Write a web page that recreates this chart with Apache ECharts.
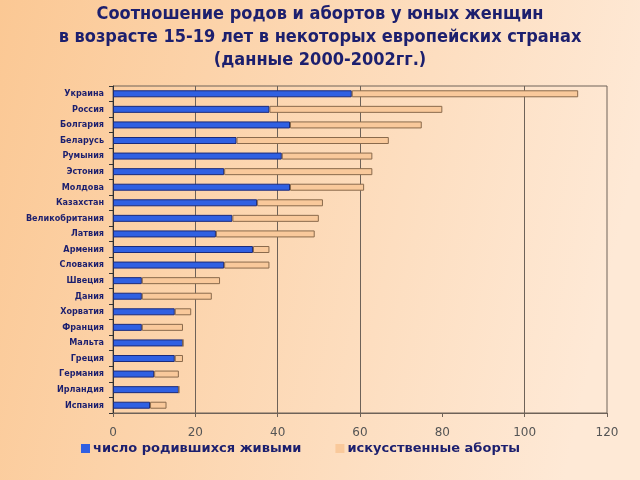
<!DOCTYPE html>
<html><head><meta charset="utf-8">
<script src="https://cdn.jsdelivr.net/npm/echarts@6/dist/echarts.min.js"></script>
<style>html,body{margin:0;padding:0;}#c{width:640px;height:480px;}</style>
</head><body><div id="c"></div>
<script>
const countries = ["Украина","Россия","Болгария","Беларусь","Румыния","Эстония","Молдова","Казахстан","Великобритания","Латвия","Армения","Словакия","Швеция","Дания","Хорватия","Франция","Мальта","Греция","Германия","Ирландия","Испания"];
const births =    [58,38,43,30,41,27,43,35,29,25,34,27,7,7,15,7,17,15,10,16,9];
const abortions = [55,42,32,37,22,36,18,16,21,24,4,11,19,17,4,10,0,2,6,0,4];
const xTicks = [0,20,40,60,80,100,120];
const gridValues = [20,40,60,100];
const seriesNames = ["число родившихся живыми","искусственные аборты"];
const titleLines = ["Соотношение родов и абортов у юных женщин","в возрасте 15-19 лет в некоторых европейских странах","(данные 2000-2002гг.)"];

const navy = '#1c1f6e';
const grid = '#6e6258';
const chart = echarts.init(document.getElementById('c'));
chart.setOption({
  animation:false,
  backgroundColor:{type:'linear',x:0,y:0,x2:1,y2:0.3,colorStops:[{offset:0,color:'#fbc894'},{offset:1,color:'#fee9d6'}]},
  title:{text:titleLines.join('\n'),left:'center',top:-2,
    textStyle:{fontFamily:'DejaVu Sans Condensed',fontWeight:'bold',fontSize:18,color:navy,lineHeight:23}},
  legend:{data:seriesNames,bottom:20,left:76,itemWidth:9,itemHeight:9,itemGap:34,icon:'rect',
    itemStyle:{borderWidth:0},
    textStyle:{fontFamily:'DejaVu Sans',fontWeight:'bold',fontSize:13,color:navy,padding:[0,0,0,-2]}},
  grid:{left:113,right:33,top:86,bottom:67,show:true,borderColor:grid,borderWidth:1,backgroundColor:'transparent'},
  xAxis:{type:'value',min:0,max:120,interval:20,
    axisLine:{show:true,lineStyle:{color:grid}},
    axisTick:{show:true,length:4,lineStyle:{color:grid}},
    axisLabel:{margin:14,fontFamily:'DejaVu Sans',fontSize:12,color:'#555',formatter:v=>xTicks.includes(v)?String(v):''},
    splitLine:{show:false}},
  yAxis:{type:'category',data:countries,inverse:true,
    axisLine:{show:true,lineStyle:{color:'#333'}},
    axisTick:{show:true,length:4,lineStyle:{color:'#333'}},
    axisLabel:{margin:9,fontFamily:'DejaVu Sans Condensed',fontWeight:'bold',fontSize:9,color:navy}},
  series:[
    {name:seriesNames[0],type:'bar',stack:'a',data:births,barWidth:7,z:3,
      itemStyle:{color:'#3060e2',borderColor:'#1b2a7a',borderWidth:1},
      markLine:{silent:true,symbol:'none',z:1,label:{show:false},
        lineStyle:{color:grid,type:'solid',width:1},
        data:gridValues.map(v=>({xAxis:v}))}},
    {name:seriesNames[1],type:'bar',stack:'a',data:abortions,barWidth:7,z:3,
      itemStyle:{color:'#f9c99b',borderColor:'#8a6a4c',borderWidth:1}}
  ]
});
</script></body></html>
